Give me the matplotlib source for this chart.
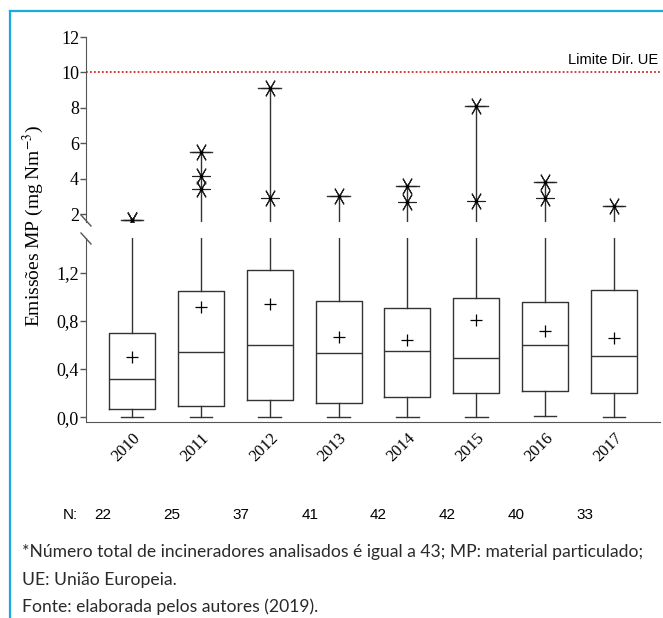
import matplotlib.pyplot as plt
from matplotlib.lines import Line2D
from matplotlib.ticker import FixedLocator, FuncFormatter
import matplotlib.transforms as mtransforms

plt.rcParams['font.family'] = 'Liberation Serif'
plt.rcParams['mathtext.fontset'] = 'stix'

years = ['2010', '2011', '2012', '2013', '2014', '2015', '2016', '2017']
n_obs = [22, 25, 37, 41, 42, 42, 40, 33]
q1 = [0.07, 0.09, 0.14, 0.12, 0.17, 0.20, 0.22, 0.20]
medians = [0.32, 0.54, 0.60, 0.53, 0.55, 0.49, 0.60, 0.51]
q3 = [0.70, 1.05, 1.22, 0.97, 0.91, 0.99, 0.96, 1.06]
means = [0.50, 0.92, 0.94, 0.67, 0.64, 0.81, 0.72, 0.66]
mins = [0.0, 0.0, 0.0, 0.0, 0.0, 0.0, 0.01, 0.0]
outliers = [[1.66, 1.68], [3.41, 4.13, 5.52], [2.92, 9.10], [3.03],
            [2.66, 3.56], [2.73, 8.13], [2.92, 3.79], [2.47]]
eu_limit = 10
lower_ticks = [0.0, 0.4, 0.8, 1.2]
upper_ticks = [2, 4, 6, 8, 10, 12]

W, H = 663, 618
fig = plt.figure(figsize=(W / 100, H / 100), dpi=100)

def px_box(left, top, right, bottom):
    return [left / W, 1 - bottom / H, (right - left) / W, (bottom - top) / H]

ax_up = fig.add_axes(px_box(86, 37, 660, 222))
ax_lo = fig.add_axes(px_box(86, 238, 660, 422))

positions = list(range(1, len(years) + 1))
stats = []
for i in range(len(years)):
    stats.append(dict(label=years[i], q1=q1[i], med=medians[i], q3=q3[i],
                      mean=means[i], whislo=mins[i], whishi=max(outliers[i]),
                      fliers=outliers[i]))

line_col = '#333333'
for ax in (ax_up, ax_lo):
    ax.bxp(stats, positions=positions, widths=0.67, capwidths=0.33,
           showmeans=True,
           boxprops=dict(color=line_col, linewidth=1.0),
           whiskerprops=dict(color=line_col, linewidth=1.0),
           capprops=dict(color=line_col, linewidth=1.0),
           medianprops=dict(color=line_col, linewidth=1.0),
           meanprops=dict(marker='+', markersize=9, markeredgecolor='black',
                          markeredgewidth=0.9),
           flierprops=dict(marker=(6, 2, 30), markersize=13,
                           markeredgecolor='#222222', markeredgewidth=0.8))
    for i, pts in enumerate(outliers):
        ax.plot([positions[i]] * len(pts), pts, 'o', color='black', ms=1.8)
    ax.set_xlim(0.33, 8.67)
    for s in ('top', 'right'):
        ax.spines[s].set_visible(False)
    ax.spines['left'].set_color('#555555')
    ax.tick_params(axis='y', direction='out', length=4, width=1, color='#555555',
                   labelsize=13, pad=1)

ax_up.set_ylim(1.55, 12)
ax_up.spines['bottom'].set_visible(False)
ax_up.set_xticks([])
ax_up.yaxis.set_major_locator(FixedLocator(upper_ticks))
ax_up.yaxis.set_major_formatter(FuncFormatter(lambda v, p: f'{v:.0f}'))
ax_up.axhline(eu_limit, color='#d42a2a', linestyle=(0, (1, 1.2)), linewidth=1.3)
ax_up.text(8.65, eu_limit + 0.3, 'Limite Dir. UE', ha='right', va='bottom',
           fontsize=10.5, family='Liberation Sans')

ax_lo.set_ylim(-0.04, 1.49)
ax_lo.yaxis.set_major_locator(FixedLocator(lower_ticks))
ax_lo.yaxis.set_major_formatter(FuncFormatter(lambda v, p: f'{v:.1f}'.replace('.', ',')))
ax_lo.spines['bottom'].set_color('#555555')
ax_lo.set_xticks(positions)
ax_lo.set_xticklabels(years, rotation=45, ha='right', rotation_mode='anchor',
                      fontsize=12)
ax_lo.tick_params(axis='x', length=0, pad=6)

fig.text(33 / W, 1 - 226 / H, 'Emissões MP (mg Nm$^{-3}$)', rotation=90,
         ha='center', va='center', fontsize=14)

# axis break marks
for (x0, y0, x1, y1) in [(81, 215, 91, 226), (81, 233, 91, 244)]:
    fig.add_artist(Line2D([x0 / W, x1 / W], [1 - y0 / H, 1 - y1 / H],
                          color='#555555', linewidth=1.0))

# N row below the axis
trans = mtransforms.blended_transform_factory(ax_lo.transData, fig.transFigure)
fig.text(0.1, 1 - 515 / H, 'N:', transform=trans, ha='center', va='center',
         fontsize=11, family='Liberation Sans')
for p, n in zip(positions, n_obs):
    fig.text(p - 0.42, 1 - 515 / H, str(n), transform=trans, ha='center',
             va='center', fontsize=11, family='Liberation Sans')

notes = ['*Número total de incineradores analisados é igual a 43; MP: material particulado;',
         'UE: União Europeia.',
         'Fonte: elaborada pelos autores (2019).']
for k, t in enumerate(notes):
    fig.text(22 / W, 1 - (552 + 27.5 * k) / H, t, ha='left', va='center',
             fontsize=12.6, family='Lato', color='#2a2a2a')

# cyan frame (top and left)
frame_col = '#1ca8e0'
fig.add_artist(Line2D([10 / W, 1], [1 - 11 / H, 1 - 11 / H], color=frame_col, linewidth=1.6))
fig.add_artist(Line2D([10 / W, 10 / W], [0, 1 - 11 / H], color=frame_col, linewidth=1.6))

fig.savefig('out.png', dpi=100)
